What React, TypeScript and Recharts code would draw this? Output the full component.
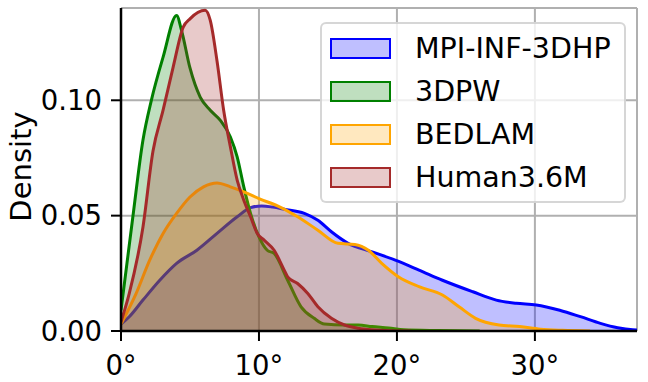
import React from 'react';
import { AreaChart, Area, XAxis, YAxis, CartesianGrid } from 'recharts';

// angle (degrees) vs density
const mpiInf3dhp = [
  [0, 0.003], [0.6, 0.0062], [1.59, 0.0134], [2.81, 0.022], [4.03, 0.0293], [5.5, 0.035],
  [6.96, 0.0423], [8.42, 0.0495], [9.39, 0.0535], [10.2, 0.0542], [11.0, 0.0537],
  [11.83, 0.0528], [13.29, 0.051], [14.27, 0.048], [15.25, 0.043], [16.46, 0.038],
  [18.2, 0.0343], [19.88, 0.0307], [21.6, 0.0264], [23.3, 0.022], [25.5, 0.017],
  [27.2, 0.0134], [28.65, 0.012], [30.1, 0.0113], [31.8, 0.009], [33.3, 0.0062],
  [34.75, 0.0033], [36.0, 0.0014], [37.1, 0.0005], [37.4, 0.0004],
];
const threeDPW = [
  [0, 0.009], [0.86, 0.0495], [1.59, 0.0827], [2.2, 0.1], [3.05, 0.1187], [4.03, 0.1368],
  [4.4, 0.13], [5.0, 0.114], [5.74, 0.1014], [6.47, 0.0957], [7.2, 0.0913], [7.93, 0.0841],
  [8.42, 0.0755], [8.9, 0.0625], [9.39, 0.051], [10.0, 0.0408], [10.6, 0.035], [11.1, 0.0336],
  [12.08, 0.022], [13.05, 0.0105], [14.0, 0.0055], [14.75, 0.003], [16.2, 0.0026],
  [17.2, 0.0026], [18.2, 0.0019], [19.4, 0.0013], [20.5, 0.0005], [23, 0.0002], [26, 0],
];
const bedlam = [
  [0, 0.003], [1.1, 0.0163], [2.08, 0.0307], [3.05, 0.0423], [4.03, 0.051], [5.0, 0.0581],
  [5.98, 0.0625], [6.96, 0.0642], [7.93, 0.0625], [8.9, 0.0603], [10.0, 0.0574],
  [11.6, 0.0535], [12.8, 0.0495], [14.27, 0.0437], [15.73, 0.038], [16.95, 0.0375],
  [17.93, 0.035], [18.9, 0.0293], [20.1, 0.0235], [21.6, 0.0192], [23.3, 0.0156],
  [24.5, 0.0105], [25.7, 0.0055], [27.4, 0.0026], [28.9, 0.0019], [30.4, 0.0008],
  [32, 0.0003], [34, 0],
];
const human36m = [
  [0, 0.004], [0.6, 0.0163], [1.59, 0.045], [2.32, 0.078], [3.05, 0.0957], [3.78, 0.1144],
  [4.51, 0.1317], [5.0, 0.1353], [6.1, 0.139], [6.47, 0.1346], [6.96, 0.117], [7.44, 0.0957],
  [7.93, 0.0798], [8.42, 0.0654], [8.9, 0.0567], [9.39, 0.0495], [9.88, 0.0423],
  [10.37, 0.0394], [11.1, 0.035], [11.83, 0.0264], [12.08, 0.0235], [12.8, 0.0206],
  [13.54, 0.0163], [14.27, 0.0105], [15.25, 0.0055], [16.2, 0.0026], [17.2, 0.0012],
  [18.2, 0.0005], [19.5, 0.0001], [21, 0],
];

const xTicks = [0, 10, 20, 30];
const yTicks = [0, 0.05, 0.1];
const xDomain = [0, 37.4];
const yDomain = [0, 0.14];

const series = [
  { name: 'MPI-INF-3DHP', values: mpiInf3dhp, color: '#0000ff', fill: 'rgba(0,0,255,0.25)' },
  { name: '3DPW', values: threeDPW, color: '#008000', fill: 'rgba(0,128,0,0.25)' },
  { name: 'BEDLAM', values: bedlam, color: '#ffa500', fill: 'rgba(255,165,0,0.25)' },
  { name: 'Human3.6M', values: human36m, color: '#a52a2a', fill: 'rgba(165,42,42,0.25)' },
];

const FONT = 'DejaVu Sans';
const TICK_FONT = 27.5;

const DensityLabel = (props: any) => {
  const vb = props.viewBox || {};
  const cx = vb.x + 31;
  const cy = vb.y + vb.height / 2 - 3;
  return (
    <text
      x={cx}
      y={cy}
      transform={`rotate(-90, ${cx}, ${cy})`}
      textAnchor="middle"
      fontFamily={FONT}
      fontSize={29}
      fill="#000"
    >
      Density
    </text>
  );
};

const LegendBox = () => (
  <div
    style={{
      position: 'absolute',
      left: 320,
      top: 22,
      width: 306,
      height: 181,
      boxSizing: 'border-box',
      border: '2px solid rgba(204,204,204,0.8)',
      borderRadius: 6,
      background: 'rgba(255,255,255,0.8)',
      fontFamily: FONT,
      fontSize: 28.5,
      paddingTop: 3,
      paddingLeft: 8,
    }}
  >
    {series.map((s) => (
      <div key={s.name} style={{ height: 43, display: 'flex', alignItems: 'center' }}>
        <div
          style={{
            width: 61,
            height: 21,
            boxSizing: 'border-box',
            border: `2.5px solid ${s.color}`,
            background: s.fill,
            marginRight: 24,
          }}
        />
        <span style={{ color: '#000', lineHeight: '43px' }}>{s.name}</span>
      </div>
    ))}
  </div>
);

export default function App() {
  return (
    <div style={{ position: 'absolute', left: 0, top: 0, width: 648, height: 382 }}>
      <AreaChart width={648} height={382} margin={{ top: 8, right: 11, bottom: 0, left: 0 }}>
        <CartesianGrid stroke="#b0b0b0" strokeWidth={2} vertical horizontal />
        <XAxis
          dataKey="0"
          type="number"
          domain={xDomain}
          allowDataOverflow
          ticks={xTicks}
          tickFormatter={(v: number) => `${v}°`}
          height={51}
          tickSize={10}
          tickMargin={14}
          axisLine={{ stroke: '#000', strokeWidth: 2.5 }}
          tickLine={{ stroke: '#000', strokeWidth: 2 }}
          tick={{ fill: '#000', fontFamily: FONT, fontSize: TICK_FONT }}
        />
        <XAxis
          xAxisId="top"
          orientation="top"
          type="number"
          domain={xDomain}
          height={0}
          tick={false}
          tickLine={false}
          axisLine={{ stroke: '#000', strokeWidth: 2.5 }}
        />
        <YAxis
          type="number"
          domain={yDomain}
          allowDataOverflow
          ticks={yTicks}
          tickFormatter={(v: number) => v.toFixed(2)}
          width={121}
          tickSize={10}
          tickMargin={9}
          axisLine={{ stroke: '#000', strokeWidth: 2.5 }}
          tickLine={{ stroke: '#000', strokeWidth: 2 }}
          tick={{ fill: '#000', fontFamily: FONT, fontSize: TICK_FONT }}
          label={<DensityLabel />}
        />
        <YAxis
          yAxisId="right"
          orientation="right"
          type="number"
          domain={yDomain}
          width={0}
          tick={false}
          tickLine={false}
          axisLine={{ stroke: '#000', strokeWidth: 2.5 }}
        />
        {series.map((s) => (
          <Area
            key={s.name}
            name={s.name}
            data={s.values}
            dataKey="1"
            type="monotone"
            stroke={s.color}
            strokeWidth={3}
            fill={s.fill}
            fillOpacity={1}
            isAnimationActive={false}
            dot={false}
            activeDot={false}
          />
        ))}
      </AreaChart>
      <LegendBox />
    </div>
  );
}
